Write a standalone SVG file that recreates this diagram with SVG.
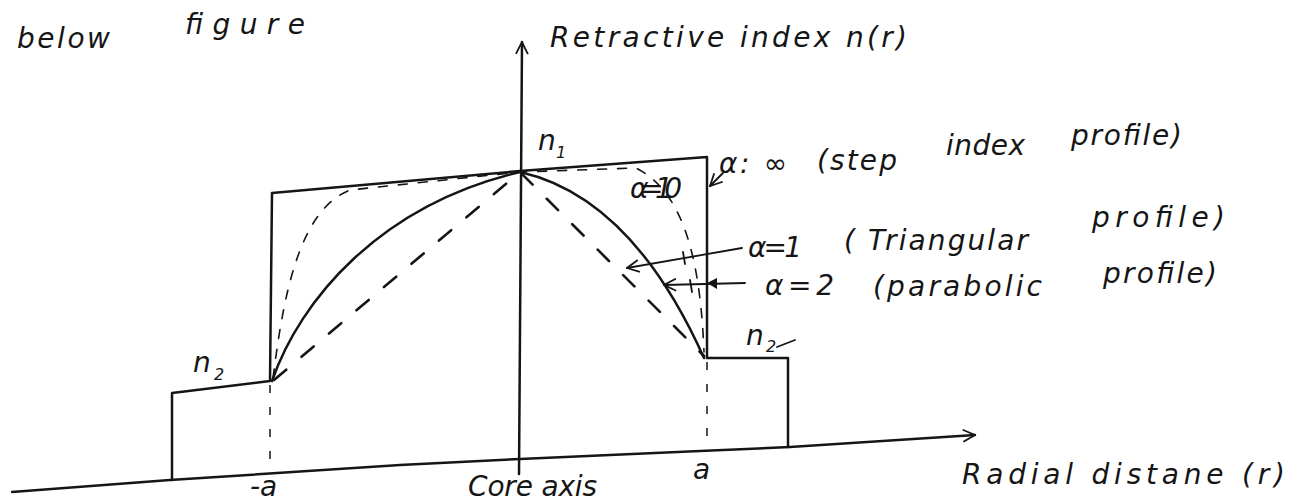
<svg xmlns="http://www.w3.org/2000/svg" width="1301" height="504" viewBox="0 0 1301 504">
<style>
.t{font-family:"DejaVu Sans","Liberation Sans",sans-serif;font-style:italic;fill:#151515;font-size:28px}
.s{font-size:16px}
.ln{fill:none;stroke:#151515;stroke-width:2.5;stroke-linecap:round;stroke-linejoin:round}
.thin{fill:none;stroke:#151515;stroke-width:1.8;stroke-linecap:round}
.d1{fill:none;stroke:#151515;stroke-width:2.6;stroke-dasharray:16 20;stroke-linecap:round}
.d10{fill:none;stroke:#151515;stroke-width:1.6;stroke-dasharray:9 11;stroke-linecap:round}
.dv{fill:none;stroke:#151515;stroke-width:1.5;stroke-dasharray:8 14}
</style>
<defs>
<marker id="ah" viewBox="0 0 14 14" refX="13" refY="7" markerWidth="14" markerHeight="14" markerUnits="userSpaceOnUse" orient="auto">
<path d="M1,1 L13,7 L1,13" fill="none" stroke="#151515" stroke-width="1.8"/>
</marker>
</defs>
<rect width="1301" height="504" fill="#ffffff"/>

<g id="heading">
<text class="t" x="17" y="48" font-size="30" textLength="93">below</text>
<text class="t" x="185" y="34" font-size="30" textLength="120">figure</text>
</g>

<g id="axes">
<path class="ln" d="M519,474 L522,42" marker-end="url(#ah)"/>
<path class="ln" d="M12,492 L170,480 L400,465 L520,459 L700,451 L790,447 L975,435" marker-end="url(#ah)"/>
<text class="t" x="550" y="47" textLength="357">Retractive index n(r)</text>
<text class="t" x="962" y="484" font-size="30" textLength="323">Radial distane (r)</text>
<text class="t" x="468" y="496" font-size="25" textLength="129">Core axis</text>
<text class="t" x="250" y="496" font-size="25">-a</text>
<text class="t" x="693" y="479" font-size="26">a</text>
</g>

<g id="step-profile">
<path class="ln" d="M172,480 L172,393 L270,381 L272,193 L520,171 L707,157 L707,358 L788,358 L788,447"/>
<path class="dv" d="M270,385 L270,471"/>
<path class="dv" d="M707,362 L707,452"/>
<text class="t" x="538" y="150">n</text><text class="t s" x="556" y="158">1</text>
<text class="t" x="193" y="372">n</text><text class="t s" x="214" y="380">2</text>
<text class="t" x="746" y="345">n</text><text class="t s" x="766" y="352">2</text>
<path class="thin" d="M777,347 L795,340"/>
</g>

<g id="profile-triangular">
<path class="d1" d="M274,380 L520,172 L704,356"/>
</g>

<g id="profile-parabolic">
<path class="ln" d="M272,381 C300,300 380,205 520,172 C600,190 660,260 704,358"/>
</g>

<g id="profile-alpha10">
<path class="d10" d="M273,378 C283,300 298,210 350,190 L520,172 L636,168 C680,190 700,250 704,352"/>
</g>

<g id="connectors">
<path class="thin" d="M723,173 L710,186" marker-end="url(#ah)"/>
<path class="thin" d="M742,248 L627,268" marker-end="url(#ah)"/>
<path class="thin" d="M745,283 L664,285" marker-end="url(#ah)"/>
<path d="M707,283 L717,278 L717,289 Z" fill="#151515"/>
<path class="thin" d="M683,252 L685,264"/>
<path class="thin" d="M690,280 L692,292"/>
</g>

<g id="labels">
<text class="t" x="719" y="173" textLength="68">α: ∞</text>
<text class="t" x="817" y="170" textLength="80">(step</text>
<text class="t" x="946" y="155" textLength="79">index</text>
<text class="t" x="1071" y="145" textLength="111">profile)</text>
<text class="t" x="630" y="198" font-size="18" textLength="52">α=10</text>
<text class="t" x="748" y="257" textLength="54">α=1</text>
<text class="t" x="844" y="250" textLength="184">( Triangular</text>
<text class="t" x="1092" y="227" textLength="133">profile)</text>
<text class="t" x="765" y="295" textLength="69">α=2</text>
<text class="t" x="873" y="296" textLength="169">(parabolic</text>
<text class="t" x="1103" y="283" textLength="114">profile)</text>
</g>
</svg>
